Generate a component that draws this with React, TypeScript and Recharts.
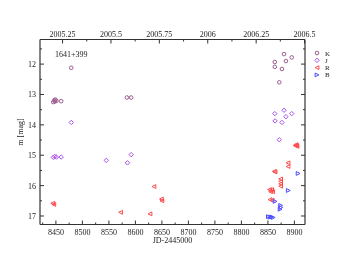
import React from 'react';
import { ScatterChart, Scatter, XAxis, YAxis } from 'recharts';

// ---------- data (JD-2445000, magnitude) ----------
const kData = [
  { x: 8445, y: 13.25 }, { x: 8447, y: 13.19 }, { x: 8449, y: 13.17 }, { x: 8451, y: 13.21 },
  { x: 8448, y: 13.23 }, { x: 8460, y: 13.22 }, { x: 8479, y: 12.12 },
  { x: 8584, y: 13.1 }, { x: 8592, y: 13.1 },
  { x: 8863, y: 11.93 }, { x: 8863, y: 12.09 }, { x: 8871.5, y: 12.6 }, { x: 8876.5, y: 12.16 },
  { x: 8880.5, y: 11.67 }, { x: 8884, y: 11.9 }, { x: 8895, y: 11.78 },
];
const jData = [
  { x: 8445, y: 15.07 }, { x: 8448, y: 15.04 }, { x: 8451, y: 15.06 }, { x: 8460, y: 15.06 },
  { x: 8479, y: 13.92 }, { x: 8545, y: 15.17 }, { x: 8585, y: 15.25 }, { x: 8592, y: 14.98 },
  { x: 8863, y: 13.63 }, { x: 8863.5, y: 13.87 }, { x: 8871.5, y: 14.49 }, { x: 8876.5, y: 13.92 },
  { x: 8880.5, y: 13.52 }, { x: 8884, y: 13.73 }, { x: 8895, y: 13.63 },
];
const rData = [
  { x: 8444, y: 16.58 }, { x: 8446, y: 16.62 }, { x: 8572, y: 16.88 }, { x: 8627.5, y: 16.93 },
  { x: 8635, y: 16.03 }, { x: 8649, y: 16.44 }, { x: 8650, y: 16.5 },
  { x: 8853, y: 16.13 }, { x: 8857, y: 16.13 }, { x: 8855, y: 16.2 }, { x: 8859, y: 16.2 },
  { x: 8854, y: 16.46 }, { x: 8858, y: 16.48 },
  { x: 8862, y: 15.53 }, { x: 8863.5, y: 15.55 },
  { x: 8874, y: 15.78 }, { x: 8874, y: 15.86 }, { x: 8874, y: 15.94 }, { x: 8874, y: 16.02 },
  { x: 8888, y: 15.25 }, { x: 8888, y: 15.37 },
  { x: 8901, y: 14.68 }, { x: 8903, y: 14.65 }, { x: 8905, y: 14.71 }, { x: 8904, y: 14.68 },
];
const bData = [
  { x: 8851, y: 17.02 }, { x: 8854, y: 17.04 }, { x: 8857, y: 17.03 }, { x: 8860, y: 17.05 },
  { x: 8863.5, y: 16.52 }, { x: 8874, y: 16.65 }, { x: 8874.5, y: 16.72 }, { x: 8873, y: 16.78 },
  { x: 8888.5, y: 16.16 }, { x: 8907, y: 15.6 },
];

const xDomain = [8420, 8920];
const yDomain = [11.19, 17.28];
const xMajorTicks = [8450, 8500, 8550, 8600, 8650, 8700, 8750, 8800, 8850, 8900];
const xMinorTicks = [8425, 8475, 8525, 8575, 8625, 8675, 8725, 8775, 8825, 8875];
const yMajorTicks = [12, 13, 14, 15, 16, 17];
const yMinorTicks = [11.5, 12.5, 13.5, 14.5, 15.5, 16.5];
const yearMajorLabels = ['2005.25', '2005.5', '2005.75', '2006', '2006.25', '2006.5'];
const yearMinor = [2005.375, 2005.625, 2005.875, 2006.125, 2006.375];
const yearToJd = (yr: number) => 6545 + (yr - 2000) * 365.25;

const title = '1641+399';
const xLabel = 'JD-2445000';
const yLabel = 'm [mag]';

const FONT = '"Liberation Serif", "DejaVu Serif", serif';
const AXIS = '#333';
const TXT = '#222';

const series = [
  { name: 'K', data: kData, color: '#9a5a8c', shape: 'circle' },
  { name: 'J', data: jData, color: '#a852e6', shape: 'diamond' },
  { name: 'R', data: rData, color: '#ff4a4a', shape: 'left' },
  { name: 'B', data: bData, color: '#4a4aff', shape: 'right' },
];

function Marker({ cx, cy, shape, color }: any) {
  if (cx == null || cy == null) return null;
  const s = 1.9;
  if (shape === 'circle') return <circle cx={cx} cy={cy} r={1.8} fill="none" stroke={color} strokeWidth={1} />;
  if (shape === 'diamond')
    return <polygon points={`${cx},${cy - s - 0.3} ${cx + s + 0.3},${cy} ${cx},${cy + s + 0.3} ${cx - s - 0.3},${cy}`} fill="none" stroke={color} strokeWidth={1} />;
  if (shape === 'left')
    return <polygon points={`${cx - s},${cy} ${cx + s},${cy - s} ${cx + s},${cy + s}`} fill="none" stroke={color} strokeWidth={1} />;
  return <polygon points={`${cx + s},${cy} ${cx - s},${cy - s} ${cx - s},${cy + s}`} fill="none" stroke={color} strokeWidth={1} />;
}

const xMajorSet = new Set(xMajorTicks);
const yMajorSet = new Set(yMajorTicks);
const yearMajorJd = yearMajorLabels.map((l) => yearToJd(parseFloat(l)));
const yearTicks = [...yearMajorJd, ...yearMinor.map(yearToJd)].sort((a, b) => a - b);

const BottomTick = ({ x, y, payload }: any) => {
  const major = xMajorSet.has(payload.value);
  return (
    <g>
      <line x1={x} x2={x} y1={y} y2={y - (major ? 4 : 2)} stroke={AXIS} strokeWidth={1} />
      {major && (
        <text x={x} y={Math.round(y + 10)} textAnchor="middle" fontFamily={FONT} fontSize={8} fill={TXT}>
          {payload.value}
        </text>
      )}
    </g>
  );
};

const TopTick = ({ x, y, payload }: any) => {
  const idx = yearMajorJd.findIndex((v) => Math.abs(v - payload.value) < 1e-6);
  const major = idx >= 0;
  return (
    <g>
      <line x1={x} x2={x} y1={y} y2={y + (major ? 4 : 2)} stroke={AXIS} strokeWidth={1} />
      {major && (
        <text x={x} y={Math.round(y - 3)} textAnchor="middle" fontFamily={FONT} fontSize={8} fill={TXT}>
          {yearMajorLabels[idx]}
        </text>
      )}
    </g>
  );
};

const LeftTick = ({ x, y, payload }: any) => {
  const major = yMajorSet.has(payload.value);
  return (
    <g>
      <line x1={x} x2={x + (major ? 4 : 2)} y1={y} y2={y} stroke={AXIS} strokeWidth={1} />
      {major && (
        <text x={x - 4} y={y + 3} textAnchor="end" fontFamily={FONT} fontSize={8} fill={TXT}>
          {payload.value}
        </text>
      )}
    </g>
  );
};

const RightTick = ({ x, y, payload }: any) => {
  const major = yMajorSet.has(payload.value);
  return <line x1={x} x2={x - (major ? 4 : 2)} y1={y} y2={y} stroke={AXIS} strokeWidth={1} />;
};

export default function App() {
  return (
    <div style={{ position: 'absolute', left: 0, top: 0, width: 354, height: 273, willChange: 'transform' }}>
      <ScatterChart width={354} height={273} margin={{ top: 19.5, right: 48, bottom: 18.5, left: 0 }}>
        <XAxis
          xAxisId={0}
          type="number"
          dataKey="x"
          domain={xDomain}
          allowDataOverflow
          ticks={[...xMajorTicks, ...xMinorTicks].sort((a, b) => a - b)}
          interval={0}
          tickSize={0}
          tickMargin={0}
          tickLine={false}
          tick={<BottomTick />}
          height={30}
          axisLine={{ stroke: AXIS, strokeWidth: 1.2 }}
          label={{
            content: ({ viewBox }: any) => (
              <text
                x={viewBox.x + viewBox.width / 2}
                y={243}
                textAnchor="middle"
                fontFamily={FONT}
                fontSize={8}
                fill={TXT}
              >
                {xLabel}
              </text>
            ),
          }}
        />
        <XAxis
          xAxisId="top"
          orientation="top"
          type="number"
          dataKey="x"
          domain={xDomain}
          allowDataOverflow
          ticks={yearTicks}
          interval={0}
          tickSize={0}
          tickMargin={0}
          tickLine={false}
          tick={<TopTick />}
          height={20}
          axisLine={{ stroke: AXIS, strokeWidth: 1.2 }}
        />
        <YAxis
          yAxisId={0}
          type="number"
          dataKey="y"
          domain={yDomain}
          reversed
          allowDataOverflow
          ticks={[...yMajorTicks, ...yMinorTicks].sort((a, b) => a - b)}
          interval={0}
          tickSize={0}
          tickMargin={0}
          tickLine={false}
          tick={<LeftTick />}
          width={40}
          axisLine={{ stroke: AXIS, strokeWidth: 1.2 }}
          label={{
            content: ({ viewBox }: any) => {
              const cx = 23;
              const cy = viewBox.y + viewBox.height / 2;
              return (
                <text
                  x={cx}
                  y={cy}
                  transform={`rotate(-90 ${cx} ${cy})`}
                  textAnchor="middle"
                  fontFamily={FONT}
                  fontSize={8}
                  fill={TXT}
                >
                  {yLabel}
                </text>
              );
            },
          }}
        />
        <YAxis
          yAxisId="right"
          orientation="right"
          type="number"
          dataKey="y"
          domain={yDomain}
          reversed
          allowDataOverflow
          ticks={[...yMajorTicks, ...yMinorTicks].sort((a, b) => a - b)}
          interval={0}
          tickSize={0}
          tickMargin={0}
          tickLine={false}
          tick={<RightTick />}
          width={1}
          axisLine={{ stroke: AXIS, strokeWidth: 1.2 }}
        />
        {series.map((s) => (
          <Scatter
            key={s.name}
            name={s.name}
            data={s.data}
            xAxisId={0}
            yAxisId={0}
            isAnimationActive={false}
            shape={(p: any) => <Marker cx={p.cx} cy={p.cy} shape={s.shape} color={s.color} />}
          />
        ))}
        <text x={55} y={57} fontFamily={FONT} fontSize={8} fill={TXT}>
          {title}
        </text>
        <g>
          {series.map((s, i) => {
            const y = 53 + i * 7.3;
            return (
              <g key={s.name}>
                <Marker cx={317} cy={y} shape={s.shape} color={s.color} />
                <text x={325} y={y + 2.5} fontFamily={FONT} fontSize={7} fill={TXT}>
                  {s.name}
                </text>
              </g>
            );
          })}
        </g>
      </ScatterChart>
    </div>
  );
}
